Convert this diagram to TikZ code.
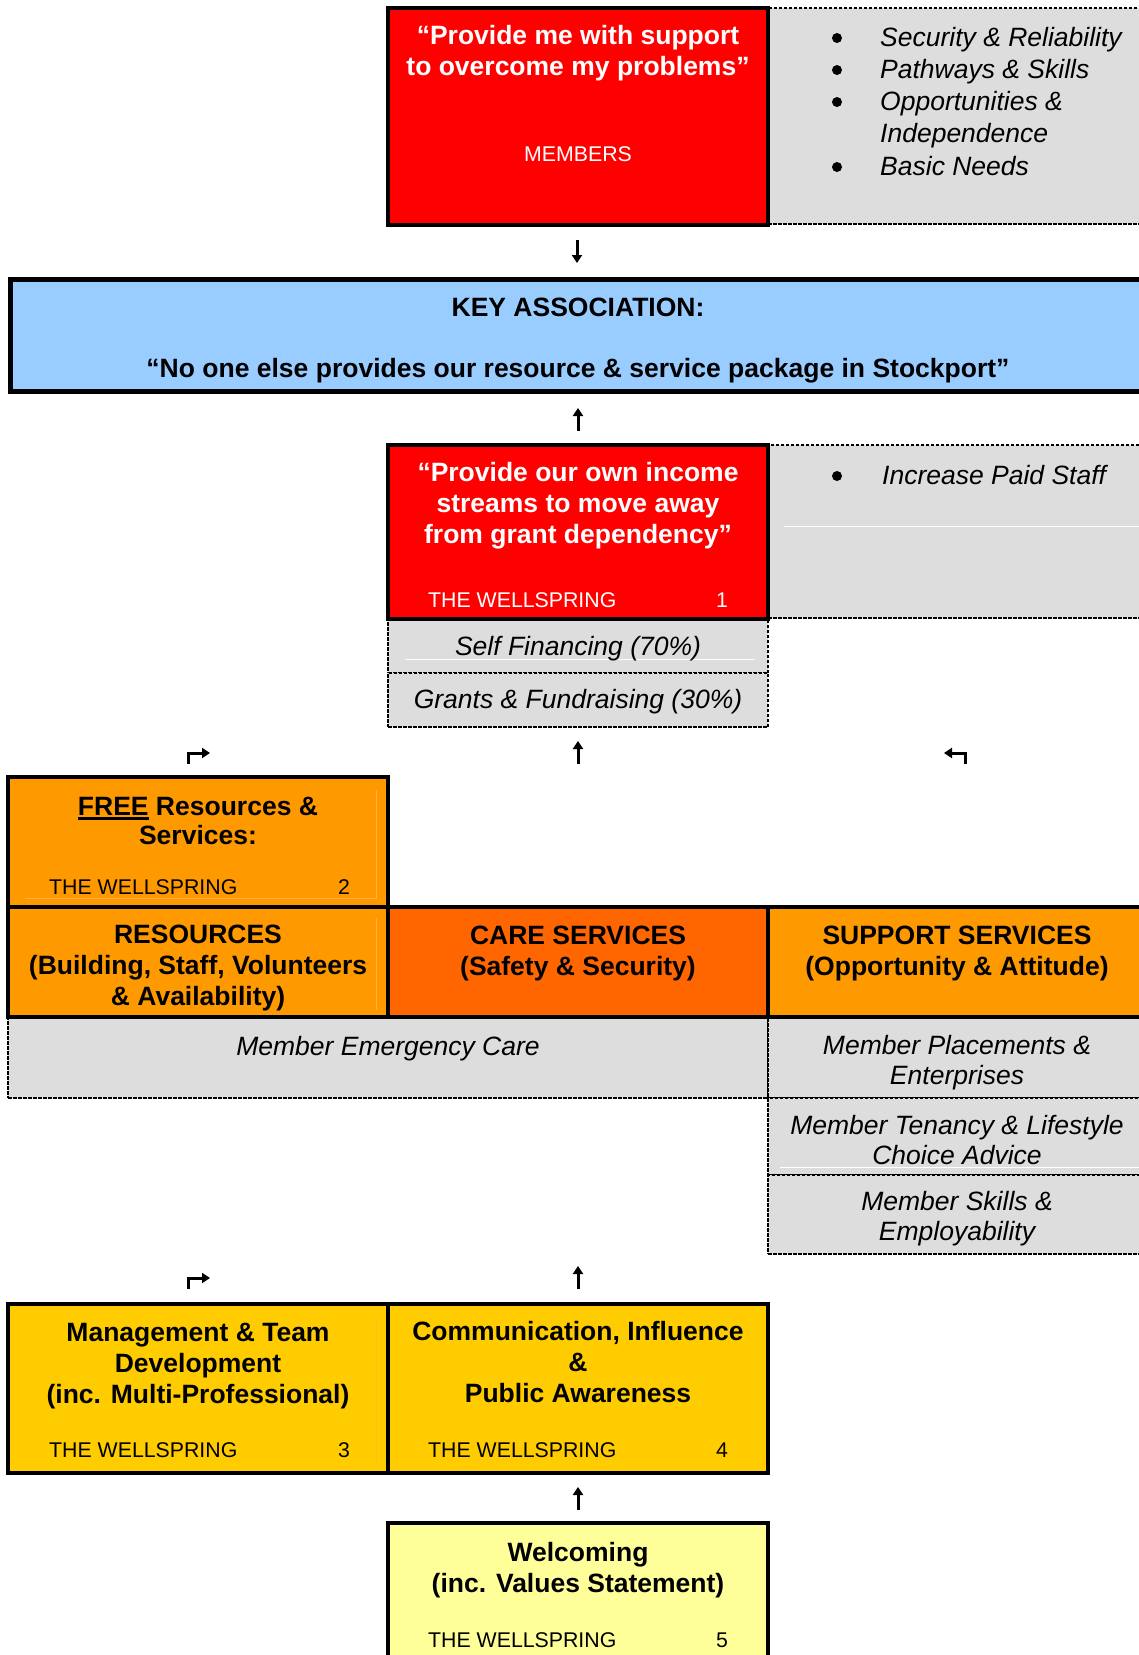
\documentclass[tikz,border=0pt]{standalone}
\usepackage{fontspec}
\setmainfont{Liberation Sans}
\usetikzlibrary{arrows.meta}

\definecolor{memberred}{HTML}{FF0000}
\definecolor{keyblue}{HTML}{99CCFF}
\definecolor{freeorange}{HTML}{FF9900}
\definecolor{careorange}{HTML}{FF6600}
\definecolor{teamgold}{HTML}{FFCC00}
\definecolor{welcomeyellow}{HTML}{FFFF99}
\definecolor{cellgray}{HTML}{DDDDDD}
\definecolor{paleorange}{HTML}{FFB347}

\newcommand{\thickul}[1]{\setbox0\hbox{#1}\rlap{\rule[-4pt]{\wd0}{2.2pt}}\box0\relax}

\begin{document}
\begin{tikzpicture}[x=1pt,y=-1pt,
	box/.style={draw=black,line width=3.5pt,anchor=north west,inner sep=0pt,outer sep=0pt},
	cell/.style={fill=cellgray,draw=black,line width=1.2pt,dash pattern=on 3.5pt off 1.5pt,anchor=north west,inner sep=0pt,outer sep=0pt},
	wh/.style 2 args={minimum width=#1pt,minimum height=#2pt},
	head/.style={font=\fontsize{26.5}{31}\selectfont\bfseries,align=center},
	item/.style={font=\fontsize{26.5}{30}\selectfont\itshape,align=center},
	oneline/.style={text height=19pt,text depth=0pt},
	tag/.style={font=\fontsize{21.3}{25}\selectfont,inner sep=0pt,text height=15.3pt,text depth=0pt},
	dot/.style={circle,fill=black,inner sep=0pt,minimum size=10pt},
	arr/.style={line width=3pt,-{Triangle[length=8pt,width=10pt]}},
	faint/.style={white,line width=0.8pt}
]
\useasboundingbox (0,0) rectangle (1139,1655);
\clip (0,0) rectangle (1139,1655);

% GREY CELLS

\node[cell,wh={379}{216}] (needs) at (768,8) {};
\node[cell,wh={379}{173}] (staff) at (768,445) {};
\draw[faint] (784,526) -- (1139,526);
\node[cell,wh={380}{53}] (selffin) at (388,620) {};
\draw[faint] (405,659) -- (755,659);
\node[cell,wh={380}{54}] (grants) at (388,673) {};
\node[cell,wh={760}{81}] (emergency) at (8,1017) {};
\node[cell,wh={379}{81}] (placements) at (768,1017) {};
\node[cell,wh={379}{77}] (tenancy) at (768,1098) {};
\draw[faint] (780,1167) -- (1139,1167);
\node[cell,wh={379}{79}] (skills) at (768,1175) {};

% MEMBERS

\node[box,fill=memberred,wh={380}{217}] (members) at (388,8) {};
\node[head,white] (memquote) at (578,53) {“Provide me with support\\to overcome my problems”};
\node[tag,white] (memtag) at (578,154) {MEMBERS};
\foreach \y/\t in {37/Security \& Reliability,69/Pathways \& Skills,101/Opportunities \&,166/Basic Needs}{
	\node[dot] (needdot\y) at (837,\y+1) {};
	\node[item,oneline,anchor=west,inner sep=0pt] (need\y) at (880,\y) {\t};
}
\node[item,oneline,anchor=west,inner sep=0pt] (need133) at (880,133) {Independence};

% KEY ASSOCIATION

\node[box,line width=5.5pt,fill=keyblue,wh={1140}{112}] (key) at (10.5,279.5) {};
\node[head,oneline] (keytitle) at (578,307) {KEY ASSOCIATION:};
\node[head,oneline] (keyquote) at (578,368) {“No one else provides our resource \& service package in Stockport”};

% THE WELLSPRING 1

\node[box,fill=memberred,wh={380}{174}] (income) at (388,445) {};
\node[head,white] (incquote) at (578,506) {“Provide our own income\\streams to move away\\from grant dependency”};
\node[tag,white,anchor=west] (inctag) at (428,600) {THE WELLSPRING};
\node[tag,white] (incnum) at (722,600) {1};
\node[dot] (staffdot) at (837,476) {};
\node[item,oneline,anchor=west,inner sep=0pt] (staffitem) at (882,475) {Increase Paid Staff};
\node[item,oneline] (selffintxt) at (578,646) {Self Financing (70\%)};
\node[item,oneline] (grantstxt) at (578,699) {Grants \& Fundraising (30\%)};

% THE WELLSPRING 2

\node[box,fill=freeorange,wh={380}{130}] (free) at (8,777) {};
\draw[paleorange,line width=0.8pt] (376,790) -- (376,898) -- (25,898);
\node[head,font=\fontsize{26.5}{29}\selectfont\bfseries] (freetxt) at (198,821) {\thickul{FREE} Resources \&\\Services:};
\node[tag,anchor=west] (freetag) at (49,887) {THE WELLSPRING};
\node[tag] (freenum) at (344,887) {2};

\node[box,fill=freeorange,wh={380}{110}] (res) at (8,907) {};
\draw[paleorange,line width=0.8pt] (376,918) -- (376,1010);
\node[box,fill=careorange,wh={380}{110}] (care) at (388,907) {};
\node[box,fill=freeorange,wh={380}{110}] (support) at (768,907) {};
\node[head] (restxt) at (198,968) {RESOURCES\\(Building, Staff, Volunteers\\\& Availability)};
\node[head] (caretxt) at (578,953) {CARE SERVICES\\(Safety \& Security)};
\node[head] (supporttxt) at (957,953) {SUPPORT SERVICES\\(Opportunity \& Attitude)};

\node[item,oneline] (emergencytxt) at (388,1046) {Member Emergency Care};
\node[item] (placementstxt) at (957,1063) {Member Placements \&\\Enterprises};
\node[item] (tenancytxt) at (957,1140) {Member Tenancy \& Lifestyle\\Choice Advice};
\node[item] (skillstxt) at (957,1219) {Member Skills \&\\Employability};

% THE WELLSPRING 3 AND 4

\node[box,fill=teamgold,wh={380}{169}] (team) at (8,1304) {};
\draw[paleorange!60!teamgold,line width=0.8pt] (376,1318) -- (376,1465);
\node[box,fill=teamgold,wh={380}{169}] (comms) at (388,1304) {};
\node[head] (teamtxt) at (198,1366) {Management \& Team\\Development\\(inc. Multi-Professional)};
\node[tag,anchor=west] (teamtag) at (49,1450) {THE WELLSPRING};
\node[tag] (teamnum) at (344,1450) {3};
\node[head] (commstxt) at (578,1362) {Communication, Influence\\\&\\Public Awareness};
\node[tag,anchor=west] (commstag) at (428,1450) {THE WELLSPRING};
\node[tag] (commsnum) at (722,1450) {4};

% THE WELLSPRING 5

\node[box,fill=welcomeyellow,wh={380}{180}] (welcome) at (388,1523) {};
\node[head] (welcometxt) at (578,1570) {Welcoming\\(inc. Values Statement)};
\node[tag,anchor=west] (welcometag) at (428,1640) {THE WELLSPRING};
\node[tag] (welcomenum) at (722,1640) {5};

% ARROWS

\coordinate (a1s) at (577,240);    \coordinate (a1e) at (577,263);
\coordinate (a2s) at (578,431);    \coordinate (a2e) at (578,408);
\coordinate (a3s) at (188.5,764);  \coordinate (a3e) at (210,753);
\coordinate (a4s) at (578,764);    \coordinate (a4e) at (578,741);
\coordinate (a5s) at (965,764);    \coordinate (a5e) at (944,753);
\coordinate (a6s) at (188.5,1289); \coordinate (a6e) at (210,1278);
\coordinate (a7s) at (578,1289);   \coordinate (a7e) at (578,1266);
\coordinate (a8s) at (578,1510);   \coordinate (a8e) at (578,1487);

\draw[arr] (a1s) -- (a1e);
\draw[arr] (a2s) -- (a2e);
\draw[arr] (a3s) |- (a3e);
\draw[arr] (a4s) -- (a4e);
\draw[arr] (a5s) |- (a5e);
\draw[arr] (a6s) |- (a6e);
\draw[arr] (a7s) -- (a7e);
\draw[arr] (a8s) -- (a8e);

\end{tikzpicture}
\end{document}
